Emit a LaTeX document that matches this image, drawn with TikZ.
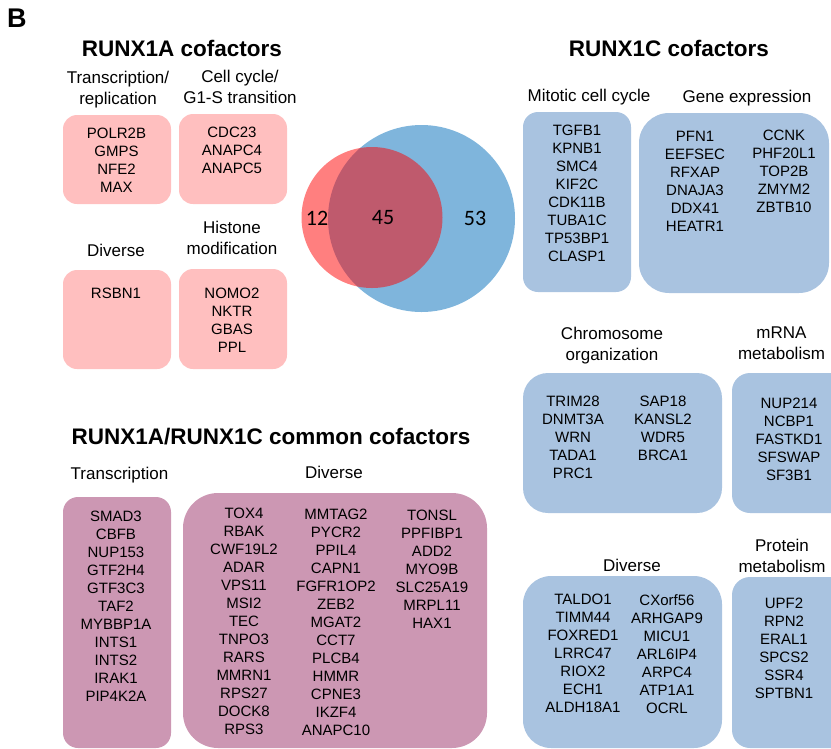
\documentclass[tikz,border=0pt]{standalone}
\usepackage{fontspec}
\setmainfont{Liberation Sans}
\newfontfamily\venfont{Carlito}
\usetikzlibrary{fit}
\definecolor{pinkfill}{RGB}{255,191,191}
\definecolor{bluefill}{RGB}{169,195,224}
\definecolor{purplefill}{RGB}{204,151,179}
\definecolor{vennblue}{RGB}{127,181,220}
\definecolor{vennred}{RGB}{255,0,0}
\begin{document}
\begin{tikzpicture}[x=1pt,y=-1pt,
  gbox/.style={inner sep=0pt, draw=none, fill=#1},
  body/.style={font=\fontsize{15}{18}\selectfont, align=center, inner sep=0pt},
  lab/.style={font=\fontsize{17}{21}\selectfont, align=center, inner sep=0pt},
  ttl/.style={font=\bfseries\fontsize{22.5}{27}\selectfont, inner sep=0pt, anchor=base},
  num/.style={font=\venfont\fontsize{22}{26}\selectfont, inner sep=0pt}]
\useasboundingbox (0,0) rectangle (831,748);

% panel letter and titles
\node[font=\bfseries\fontsize{27}{32}\selectfont, inner sep=0pt, anchor=base west] (B) at (7,27) {B};
\node[ttl] (tA) at (182,56.5) {RUNX1A cofactors};
\node[ttl] (tC) at (669,56.5) {RUNX1C cofactors};
\node[ttl] (tAC) at (271,444) {RUNX1A/RUNX1C common cofactors};

% ---------- RUNX1A boxes ----------
\node[gbox=pinkfill, rounded corners=14pt, fit={(63,115) (171,204)}] (pa1) {};
\node[gbox=pinkfill, rounded corners=14pt, fit={(179,114) (287,204)}] (pa2) {};
\node[gbox=pinkfill, rounded corners=14pt, fit={(63,270) (171,369)}] (pa3) {};
\node[gbox=pinkfill, rounded corners=14pt, fit={(179,269) (287,369)}] (pa4) {};

\node[lab] (la1) at (118,89.1) {Transcription/\\replication};
\node[lab] (la2) at (240,87.3) {Cell cycle/\\G1-S transition};
\node[lab, anchor=base] (la3) at (116,256) {Diverse};
\node[lab] (la4) at (232,237.8) {Histone\\modification};

\node[body] (xa1) at (116.5,160.2) {POLR2B\\GMPS\\NFE2\\MAX};
\node[body] (xa2) at (232,150.8) {CDC23\\ANAPC4\\ANAPC5};
\node[body] (xa3) at (116,293.3) {RSBN1};
\node[body] (xa4) at (232,320) {NOMO2\\NKTR\\GBAS\\PPL};

% ---------- Venn ----------
\node[circle, inner sep=0pt, minimum size=187pt, fill=vennblue] (vC) at (421.5,218.5) {};
\node[circle, inner sep=0pt, minimum size=141pt, fill=vennred, fill opacity=0.5] (vA) at (372,217.5) {};
\node[num] (n12) at (317,218) {12};
\node[num] (n45) at (383,218) {45};
\node[num] (n53) at (475,218) {53};

% ---------- RUNX1C boxes ----------
\node[gbox=bluefill, rounded corners=15pt, fit={(523,112) (631,292)}] (pc1) {};
\node[gbox=bluefill, rounded corners=30pt, fit={(639,113) (829,293)}] (pc2) {};
\node[gbox=bluefill, rounded corners=25pt, fit={(523,373) (722,513)}] (pc3) {};
\node[gbox=bluefill, rounded corners=18pt, fit={(732,373) (850,513)}] (pc4) {};
\node[gbox=bluefill, rounded corners=28pt, fit={(523,576) (722,748)}] (pc5) {};
\node[gbox=bluefill, rounded corners=18pt, fit={(732,577) (850,748)}] (pc6) {};

\node[lab, anchor=base] (lc1) at (589,101) {Mitotic cell cycle};
\node[lab, anchor=base] (lc2) at (747,102) {Gene expression};
\node[lab] (lc3) at (612,345.1) {Chromosome\\organization};
\node[lab] (lc4) at (781.5,343.3) {mRNA\\metabolism};
\node[lab, anchor=base] (lc5) at (632,571) {Diverse};
\node[lab] (lc6) at (782,556.3) {Protein\\metabolism};

\node[body] (xc1) at (577,193.3) {TGFB1\\KPNB1\\SMC4\\KIF2C\\CDK11B\\TUBA1C\\TP53BP1\\CLASP1};
\node[body] (xc2a) at (695,181.7) {PFN1\\EEFSEC\\RFXAP\\DNAJA3\\DDX41\\HEATR1};
\node[body] (xc2b) at (784,171.3) {CCNK\\PHF20L1\\TOP2B\\ZMYM2\\ZBTB10};
\node[body] (xc3a) at (573,437.5) {TRIM28\\DNMT3A\\WRN\\TADA1\\PRC1};
\node[body] (xc3b) at (663,428.7) {SAP18\\KANSL2\\WDR5\\BRCA1};
\node[body] (xc4) at (789,439.2) {NUP214\\NCBP1\\FASTKD1\\SFSWAP\\SF3B1};
\node[body] (xc5a) at (583,653.7) {TALDO1\\TIMM44\\FOXRED1\\LRRC47\\RIOX2\\ECH1\\ALDH18A1};
\node[body] (xc5b) at (667,653.7) {CXorf56\\ARHGAP9\\MICU1\\ARL6IP4\\ARPC4\\ATP1A1\\OCRL};
\node[body] (xc6) at (784,648.3) {UPF2\\RPN2\\ERAL1\\SPCS2\\SSR4\\SPTBN1};

% ---------- common boxes ----------
\node[gbox=purplefill, rounded corners=15pt, fit={(63,497) (171,748)}] (pm1) {};
\node[gbox=purplefill, rounded corners=35pt, fit={(183,493) (487,748)}] (pm2) {};

\node[lab, anchor=base] (lm1) at (119.5,479) {Transcription};
\node[lab, anchor=base] (lm2) at (334,478) {Diverse};

\node[body] (xm1) at (116,606.3) {SMAD3\\CBFB\\NUP153\\GTF2H4\\GTF3C3\\TAF2\\MYBBP1A\\INTS1\\INTS2\\IRAK1\\PIP4K2A};
\node[body] (xm2a) at (244,621.3) {TOX4\\RBAK\\CWF19L2\\ADAR\\VPS11\\MSI2\\TEC\\TNPO3\\RARS\\MMRN1\\RPS27\\DOCK8\\RPS3};
\node[body] (xm2b) at (336,622.5) {MMTAG2\\PYCR2\\PPIL4\\CAPN1\\FGFR1OP2\\ZEB2\\MGAT2\\CCT7\\PLCB4\\HMMR\\CPNE3\\IKZF4\\ANAPC10};
\node[body] (xm2c) at (432,569.7) {TONSL\\PPFIBP1\\ADD2\\MYO9B\\SLC25A19\\MRPL11\\HAX1};
\end{tikzpicture}
\end{document}
